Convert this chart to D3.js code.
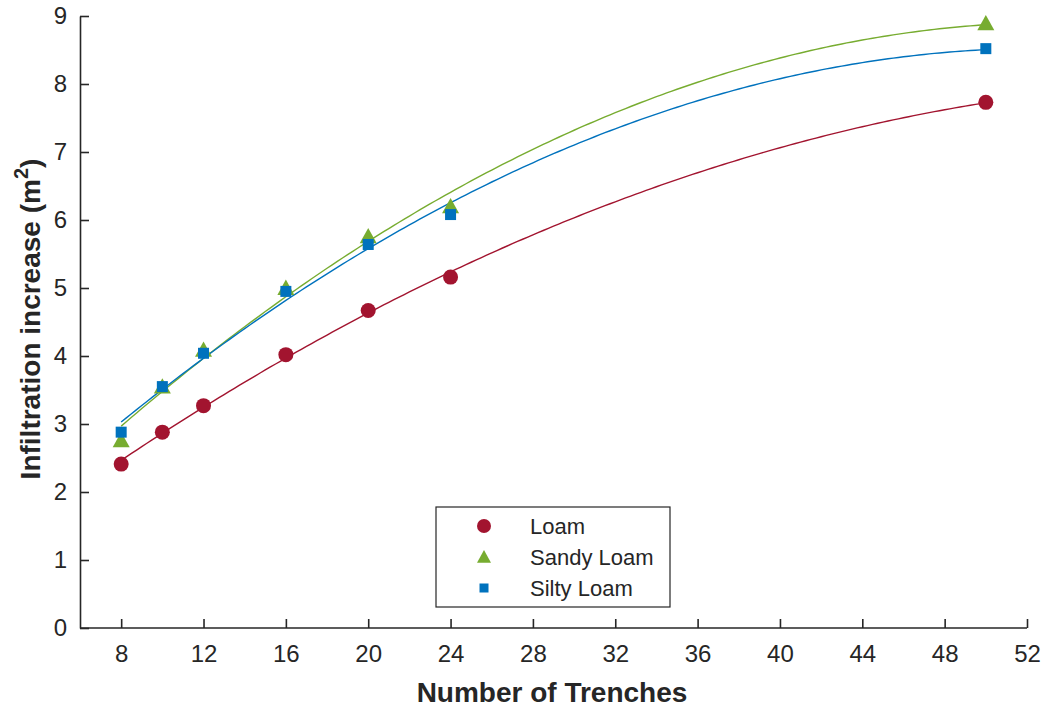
<!DOCTYPE html>
<html>
<head>
<meta charset="utf-8">
<script src="https://cdn.jsdelivr.net/npm/d3@7"></script>
<style>
  body { margin: 0; background: #fff; }
  text { font-family: "Liberation Sans", Arial, sans-serif; fill: #262626; }
</style>
</head>
<body>
<svg id="chart" width="1044" height="709"></svg>
<script>
// Number of trenches (x) and measured infiltration increase for each soil type
const trenches = [8, 10, 12, 16, 20, 24, 50];
const loam = [2.41, 2.88, 3.27, 4.02, 4.67, 5.16, 7.73];
const sandyLoam = [2.76, 3.55, 4.09, 5.00, 5.76, 6.20, 8.89];
const siltyLoam = [2.88, 3.55, 4.04, 4.95, 5.64, 6.08, 8.52];

const seriesNames = ["Loam", "Sandy Loam", "Silty Loam"];
const seriesColors = ["#A2142F", "#77AC30", "#0072BD"];
const seriesShapes = ["circle", "triangle", "square"];

const xTicks = [8, 12, 16, 20, 24, 28, 32, 36, 40, 44, 48, 52];
const yTicks = [0, 1, 2, 3, 4, 5, 6, 7, 8, 9];

const svg = d3.select("#chart");
const x = d3.scaleLinear().domain([6, 52]).range([80, 1027]);
const y = d3.scaleLinear().domain([0, 9]).range([628, 16]);

// Least-squares quadratic fit (normal equations, 3x3 solve)
function quadFit(xs, ys) {
  const S = k => d3.sum(xs, v => Math.pow(v, k));
  const T = k => d3.sum(xs, (v, i) => Math.pow(v, k) * ys[i]);
  const A = [[S(0), S(1), S(2)], [S(1), S(2), S(3)], [S(2), S(3), S(4)]];
  const b = [T(0), T(1), T(2)];
  for (let i = 0; i < 3; i++) {
    for (let j = i + 1; j < 3; j++) {
      const f = A[j][i] / A[i][i];
      for (let k = i; k < 3; k++) A[j][k] -= f * A[i][k];
      b[j] -= f * b[i];
    }
  }
  const c = [0, 0, 0];
  for (let i = 2; i >= 0; i--) {
    let s = b[i];
    for (let k = i + 1; k < 3; k++) s -= A[i][k] * c[k];
    c[i] = s / A[i][i];
  }
  return t => c[0] + c[1] * t + c[2] * t * t;
}

const series = [loam, sandyLoam, siltyLoam].map((vals, i) => ({
  name: seriesNames[i], color: seriesColors[i], shape: seriesShapes[i], values: vals
}));

// Axes
const xAxis = d3.axisBottom(x).tickValues(xTicks).tickSizeInner(-9).tickSizeOuter(0).tickPadding(17);
const yAxis = d3.axisLeft(y).tickValues(yTicks).tickSizeInner(-9).tickSizeOuter(0).tickPadding(13);

const gx = svg.append("g").attr("transform", `translate(0,${y(0)})`).call(xAxis);
const gy = svg.append("g").attr("transform", `translate(${x(6)},0)`).call(yAxis);
[gx, gy].forEach(g => {
  g.select(".domain").attr("stroke", "#262626").attr("stroke-width", 1.6);
  g.selectAll(".tick line").attr("stroke", "#262626").attr("stroke-width", 1.6);
  g.selectAll(".tick text").attr("font-size", 24).attr("fill", "#262626")
    .attr("font-family", "Liberation Sans, Arial, sans-serif");
});
gx.select(".domain").attr("d", `M${x(6)},0H${x(52)}`);

// Fitted trend curves
const xs = d3.range(8, 50.001, 0.25);
const line = d3.line().x(d => x(d[0])).y(d => y(d[1]));
series.forEach(s => {
  const f = quadFit(trenches, s.values);
  svg.append("path")
    .attr("d", line(xs.map(t => [t, f(t)])))
    .attr("fill", "none").attr("stroke", s.color).attr("stroke-width", 1.4);
});

// Marker drawing
function marker(g, shape, cx, cy, size, color) {
  if (shape === "circle") {
    g.append("circle").attr("cx", cx).attr("cy", cy).attr("r", size / 2).attr("fill", color);
  } else if (shape === "triangle") {
    const h = size * 0.9, w = size;
    g.append("path")
      .attr("d", `M${cx},${cy - h * 0.55}L${cx + w / 2},${cy + h * 0.45}L${cx - w / 2},${cy + h * 0.45}Z`)
      .attr("fill", color);
  } else {
    g.append("rect").attr("x", cx - size / 2).attr("y", cy - size / 2)
      .attr("width", size).attr("height", size).attr("fill", color);
  }
}

const markerSizes = { circle: 15, triangle: 17, square: 11 };
series.forEach(s => {
  const g = svg.append("g");
  trenches.forEach((t, i) => marker(g, s.shape, x(t), y(s.values[i]), markerSizes[s.shape], s.color));
});

// Axis titles
svg.append("text").attr("x", 552).attr("y", 702).attr("text-anchor", "middle")
  .attr("font-size", 28).attr("font-weight", "bold").text("Number of Trenches");

const yt = svg.append("text").attr("transform", "translate(40,319) rotate(-90)")
  .attr("text-anchor", "middle").attr("font-size", 28).attr("font-weight", "bold");
yt.append("tspan").text("Infiltration increase (m");
yt.append("tspan").attr("font-size", 20).attr("dy", -12).text("2");
yt.append("tspan").attr("dy", 12).text(")");

// Legend
const lg = svg.append("g");
lg.append("rect").attr("x", 436).attr("y", 507).attr("width", 234).attr("height", 100)
  .attr("fill", "#fff").attr("stroke", "#262626").attr("stroke-width", 1.2);
const legendSizes = { circle: 14, triangle: 14, square: 9 };
series.forEach((s, i) => {
  const cy = 526 + i * 31;
  marker(lg, s.shape, 484, cy, legendSizes[s.shape], s.color);
  lg.append("text").attr("x", 530).attr("y", cy + 8).attr("font-size", 22).text(s.name);
});
</script>
</body>
</html>
